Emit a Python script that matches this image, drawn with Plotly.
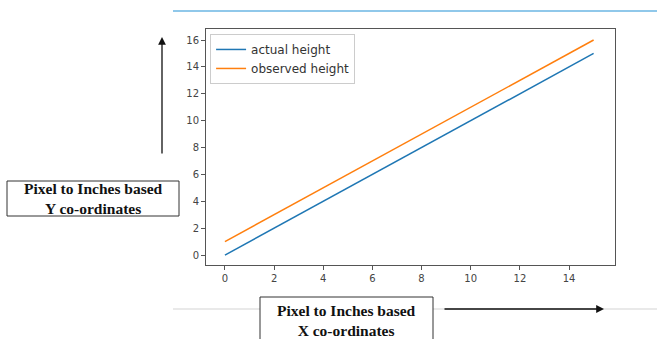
import plotly.graph_objects as go

x_vals = list(range(0, 16))
actual_height = [float(v) for v in range(0, 16)]
observed_height = [v + 1.0 for v in actual_height]
x_ticks = [0, 2, 4, 6, 8, 10, 12, 14]
y_ticks = [0, 2, 4, 6, 8, 10, 12, 14, 16]

W, H = 657, 339
L, R, T, B = 206, 615, 29, 265


def px(xp):
    return (xp - L) / (R - L)


def py(yp):
    return (B - yp) / (B - T)


fig = go.Figure()
fig.add_trace(go.Scatter(x=x_vals, y=actual_height, mode="lines", name="actual height",
                         line=dict(color="#1f77b4", width=1.5)))
fig.add_trace(go.Scatter(x=x_vals, y=observed_height, mode="lines", name="observed height",
                         line=dict(color="#ff7f0e", width=1.5)))

axis_common = dict(showgrid=False, zeroline=False, showline=True, linecolor="#555", linewidth=1,
                   mirror=True, ticks="outside", ticklen=4, tickcolor="#555",
                   tickfont=dict(family="DejaVu Sans", size=10, color="#444"))
fig.update_xaxes(range=[-0.77, 15.87], tickvals=x_ticks, **axis_common)
fig.update_yaxes(range=[-0.74, 16.82], tickvals=y_ticks, **axis_common)

shapes = [
    dict(type="line", xref="paper", yref="paper", x0=px(173), x1=px(657), y0=py(11), y1=py(11),
         line=dict(color="#6bb6e3", width=1.5)),
    dict(type="line", xref="paper", yref="paper", x0=px(173), x1=px(657), y0=py(309), y1=py(309),
         line=dict(color="#e2e2e2", width=1.5)),
    dict(type="rect", xref="paper", yref="paper", x0=px(7), x1=px(179), y0=py(181), y1=py(216),
         line=dict(color="#333", width=1), fillcolor="white"),
    dict(type="rect", xref="paper", yref="paper", x0=px(260), x1=px(433), y0=py(297), y1=py(345),
         line=dict(color="#333", width=1), fillcolor="white"),
]

serif = dict(family="Liberation Serif", size=15.5, color="#111")


def label(xc, yc, txt):
    return dict(xref="paper", yref="paper", x=px(xc), y=py(yc), text="<b>" + txt + "</b>",
                showarrow=False, font=serif, xanchor="center", yanchor="middle", borderpad=0,
                align="center")


annotations = [
    label(93, 198.5, "Pixel to Inches based<br>Y co-ordinates"),
    label(346, 320.5, "Pixel to Inches based<br>X co-ordinates"),
    dict(xref="paper", yref="paper", x=px(162), y=py(37), ax=0, ay=118, text="",
         showarrow=True, arrowhead=2, arrowsize=1.2, arrowwidth=1.3, arrowcolor="#111"),
    dict(xref="paper", yref="paper", x=px(604), y=py(309), ax=-161, ay=0, text="",
         showarrow=True, arrowhead=2, arrowsize=1.2, arrowwidth=1.3, arrowcolor="#111"),
]

fig.update_layout(
    width=W, height=H,
    margin=dict(l=L, r=W - R, t=T, b=H - B),
    paper_bgcolor="white", plot_bgcolor="white",
    showlegend=True,
    legend=dict(x=0.01, y=0.979, xanchor="left", yanchor="top", bgcolor="white",
                bordercolor="#ccc", borderwidth=1, font=dict(family="DejaVu Sans", size=12, color="#333"),
                tracegroupgap=0, itemwidth=30),
    shapes=shapes, annotations=annotations,
)

fig.write_html("out.html", config={"displayModeBar": False},
               post_script="document.body.style.margin='0';document.body.style.padding='0';")
